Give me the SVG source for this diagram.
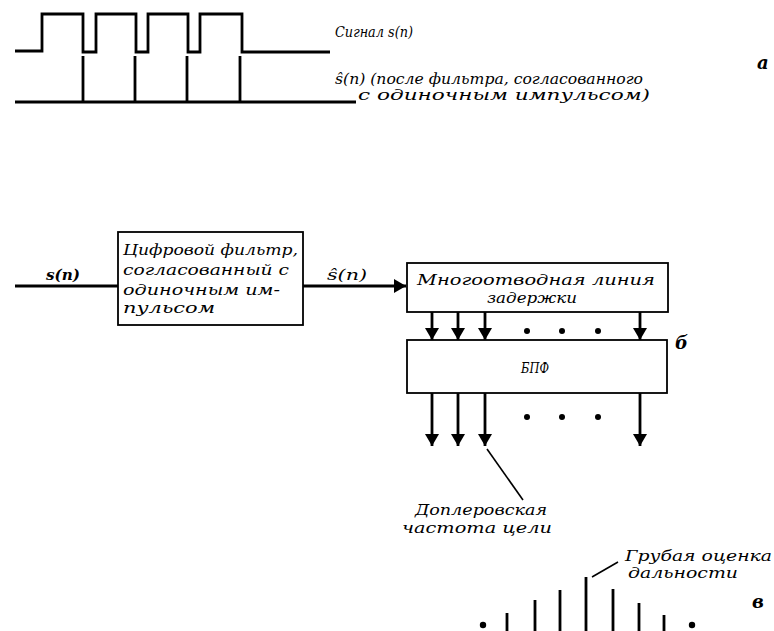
<svg xmlns="http://www.w3.org/2000/svg" width="774" height="631" viewBox="0 0 774 631">
<defs>
<style>
.ln{fill:none;stroke:#000;stroke-width:2.8;stroke-linejoin:miter}
.thin{fill:none;stroke:#000;stroke-width:1.6}
.box{fill:#fff;stroke:#000;stroke-width:1.8}
.t{font-family:"DejaVu Serif","Liberation Serif",serif;font-style:italic;font-size:15px;fill:#000}
.s{font-size:14px}
.lab{font-family:"DejaVu Serif","Liberation Serif",serif;font-style:italic;font-weight:bold;font-size:18px;fill:#000}
.dot{fill:#000}
</style>
<marker id="ah" viewBox="0 0 12 14" refX="12" refY="7" markerWidth="12" markerHeight="14" markerUnits="userSpaceOnUse" orient="auto">
<path d="M0,0 L12,7 L0,14 Z" fill="#000"/>
</marker>
</defs>

<!-- Part a -->
<g id="waveform-signal">
<path class="ln" d="M15,51 H42 V14 H83 V52 H96 V14 H136 V52 H148 V14 H188 V52 H200 V14 H242 V52 H330"/>
<text class="t" x="335" y="37" textLength="78" lengthAdjust="spacingAndGlyphs">Сигнал s(n)</text>
</g>
<g id="waveform-filtered">
<path class="ln" d="M15,102 H356 M83,56 V102 M135,56 V102 M187,56 V102 M240,56 V102"/>
<text class="t s" x="335" y="84" textLength="308" lengthAdjust="spacingAndGlyphs">ŝ(n) (после фильтра, согласованного</text>
<text class="t s" x="358" y="100" textLength="292" lengthAdjust="spacingAndGlyphs">с одиночным импульсом)</text>
</g>
<text class="lab" x="757" y="69">а</text>

<!-- Part б -->
<g id="filter">
<rect class="box" x="118" y="232" width="185" height="93"/>
<text class="t" x="123" y="255" textLength="175" lengthAdjust="spacingAndGlyphs">Цифровой фильтр,</text>
<text class="t" x="123" y="275" textLength="166" lengthAdjust="spacingAndGlyphs">согласованный с</text>
<text class="t" x="123" y="295" textLength="157" lengthAdjust="spacingAndGlyphs">одиночным им-</text>
<text class="t" x="123" y="313" textLength="92" lengthAdjust="spacingAndGlyphs">пульсом</text>
</g>
<g id="delay-line">
<rect class="box" x="407" y="263" width="261" height="49"/>
<text class="t" x="417" y="285" textLength="238" lengthAdjust="spacingAndGlyphs">Многоотводная линия</text>
<text class="t" x="487" y="303" textLength="90" lengthAdjust="spacingAndGlyphs">задержки</text>
</g>
<g id="fft">
<rect class="box" x="407" y="340" width="260" height="53"/>
<text class="t" x="521" y="373" textLength="28" lengthAdjust="spacingAndGlyphs">БПФ</text>
</g>
<text class="lab" x="675" y="349">б</text>

<g id="connectors">
<path class="ln" d="M15,286 H118"/>
<text class="t" x="46" y="280" font-size="16" font-weight="bold" textLength="34" lengthAdjust="spacingAndGlyphs">s(n)</text>
<path class="ln" d="M303,286 H406" marker-end="url(#ah)"/>
<text class="t" x="327" y="280" font-size="16" textLength="40" lengthAdjust="spacingAndGlyphs">ŝ(n)</text>
<path class="ln" d="M432,312 V340" marker-end="url(#ah)"/>
<path class="ln" d="M458,312 V340" marker-end="url(#ah)"/>
<path class="ln" d="M485,312 V340" marker-end="url(#ah)"/>
<path class="ln" d="M640,312 V340" marker-end="url(#ah)"/>
<path class="ln" d="M432,393 V446" marker-end="url(#ah)"/>
<path class="ln" d="M458,393 V446" marker-end="url(#ah)"/>
<path class="ln" d="M485,393 V446" marker-end="url(#ah)"/>
<path class="ln" d="M640,393 V446" marker-end="url(#ah)"/>
<circle class="dot" cx="527" cy="331" r="3"/>
<circle class="dot" cx="562" cy="331" r="3"/>
<circle class="dot" cx="598" cy="331" r="3"/>
<circle class="dot" cx="527" cy="417" r="3"/>
<circle class="dot" cx="562" cy="417" r="3"/>
<circle class="dot" cx="598" cy="417" r="3"/>
<path class="thin" d="M487,449 L523,500"/>
</g>
<text class="t" x="415" y="515" textLength="132" lengthAdjust="spacingAndGlyphs">Доплеровская</text>
<text class="t" x="402" y="533" textLength="150" lengthAdjust="spacingAndGlyphs">частота цели</text>

<!-- Part в -->
<g id="range-bars">
<circle class="dot" cx="483" cy="625" r="3.2"/>
<circle class="dot" cx="692" cy="625" r="3.2"/>
<path class="ln" d="M507,613 V631 M535,600 V631 M560,590 V631 M586,577 V631 M613,589 V631 M639,603 V631 M664,615 V631"/>
<path class="thin" d="M592,577 L618,562"/>
</g>
<text class="t s" x="625" y="561" textLength="147" lengthAdjust="spacingAndGlyphs">Грубая оценка</text>
<text class="t s" x="628" y="578" textLength="110" lengthAdjust="spacingAndGlyphs">дальности</text>
<text class="lab" x="752" y="608">в</text>
</svg>
